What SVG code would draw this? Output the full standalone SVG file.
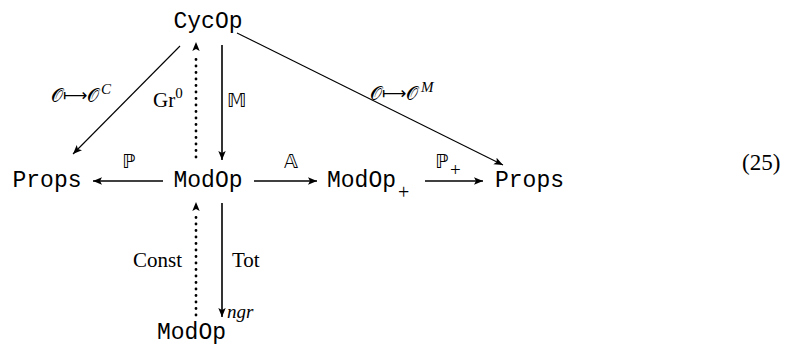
<svg xmlns="http://www.w3.org/2000/svg" width="788" height="354" viewBox="0 0 788 354">
<defs>
<marker id="ah" markerWidth="10" markerHeight="8" refX="9" refY="4" orient="auto" markerUnits="userSpaceOnUse">
<path d="M0,0.3 L9,4 L0,7.7 L2,4 Z" fill="#000"/>
</marker>
</defs>
<style>
.node{font-family:"Liberation Mono","DejaVu Sans Mono",monospace;font-size:23px;fill:#000}
.lbl{font-family:"Liberation Serif","DejaVu Serif",serif;font-size:21px;fill:#000}
.bb{font-family:"DejaVu Sans","DejaVu Serif",sans-serif;font-size:19px;fill:#000}
.cal{font-family:"DejaVu Serif","DejaVu Sans",serif;font-size:19px;fill:#000}
.map{font-family:"DejaVu Sans",sans-serif;font-size:17px;fill:#000}
.it{font-family:"Liberation Serif",serif;font-style:italic;font-size:15px;fill:#000}
.solid{stroke:#000;stroke-width:1.6;fill:none}
.thin{stroke:#000;stroke-width:1.1;fill:none}
.dot{stroke:#000;stroke-width:2.8;stroke-linecap:round;stroke-dasharray:0 6.5;fill:none}
.head{stroke:none;fill:none}
</style>
<rect width="788" height="354" fill="#fff"/>
<g id="connectors">
<line class="solid" x1="222" y1="45" x2="222" y2="160" marker-end="url(#ah)"/>
<line class="dot" x1="196" y1="157" x2="196" y2="53"/>
<line class="head" x1="196" y1="52" x2="196" y2="42" marker-end="url(#ah)"/>
<line class="solid" x1="222" y1="203" x2="222" y2="317" marker-end="url(#ah)"/>
<line class="dot" x1="196" y1="315" x2="196" y2="213"/>
<line class="head" x1="196" y1="212" x2="196" y2="202" marker-end="url(#ah)"/>
<line class="solid" x1="163" y1="181" x2="93" y2="181" marker-end="url(#ah)"/>
<line class="solid" x1="254" y1="181" x2="317" y2="181" marker-end="url(#ah)"/>
<line class="solid" x1="425" y1="181" x2="483" y2="181" marker-end="url(#ah)"/>
<line class="thin" x1="180" y1="46" x2="73" y2="154" marker-end="url(#ah)"/>
<line class="thin" x1="237" y1="33" x2="503" y2="165" marker-end="url(#ah)"/>
<text class="bb" x="435" y="168">ℙ</text>
<text class="lbl" x="450" y="176" style="font-size:19px">+</text>
<text class="bb" x="122" y="168">ℙ</text>
<text class="bb" x="284" y="168">𝔸</text>
<text class="bb" x="227" y="107">𝕄</text>
<text class="lbl" x="153" y="107">Gr<tspan style="font-size:15px" dy="-9">0</tspan></text>
<text class="lbl" x="133" y="267">Const</text>
<text class="lbl" x="232" y="267">Tot</text>
<text class="cal" x="51" y="102">𝒪</text>
<text class="map" x="63" y="101">⟼</text>
<text class="cal" x="87" y="102">𝒪</text>
<text class="it" x="101" y="94">C</text>
<text class="cal" x="370" y="100">𝒪</text>
<text class="map" x="382" y="99">⟼</text>
<text class="cal" x="406" y="100">𝒪</text>
<text class="it" x="421" y="92">M</text>
</g>
<g id="CycOp"><text class="node" x="208" y="28" text-anchor="middle">CycOp</text></g>
<g id="PropsL"><text class="node" x="47" y="187" text-anchor="middle">Props</text></g>
<g id="ModOp"><text class="node" x="208" y="187" text-anchor="middle">ModOp</text></g>
<g id="ModOpPlus"><text class="node" x="327" y="187">ModOp</text><text class="lbl" x="398" y="199" style="font-size:20px">+</text></g>
<g id="PropsR"><text class="node" x="495" y="187">Props</text></g>
<g id="ModOpNgr"><text class="node" x="157" y="339">ModOp</text><text class="lbl" x="227" y="318" style="font-style:italic;font-size:19px">ngr</text></g>
<g id="eqnum"><text class="lbl" x="742" y="170" style="font-size:23px">(25)</text></g>
</svg>
